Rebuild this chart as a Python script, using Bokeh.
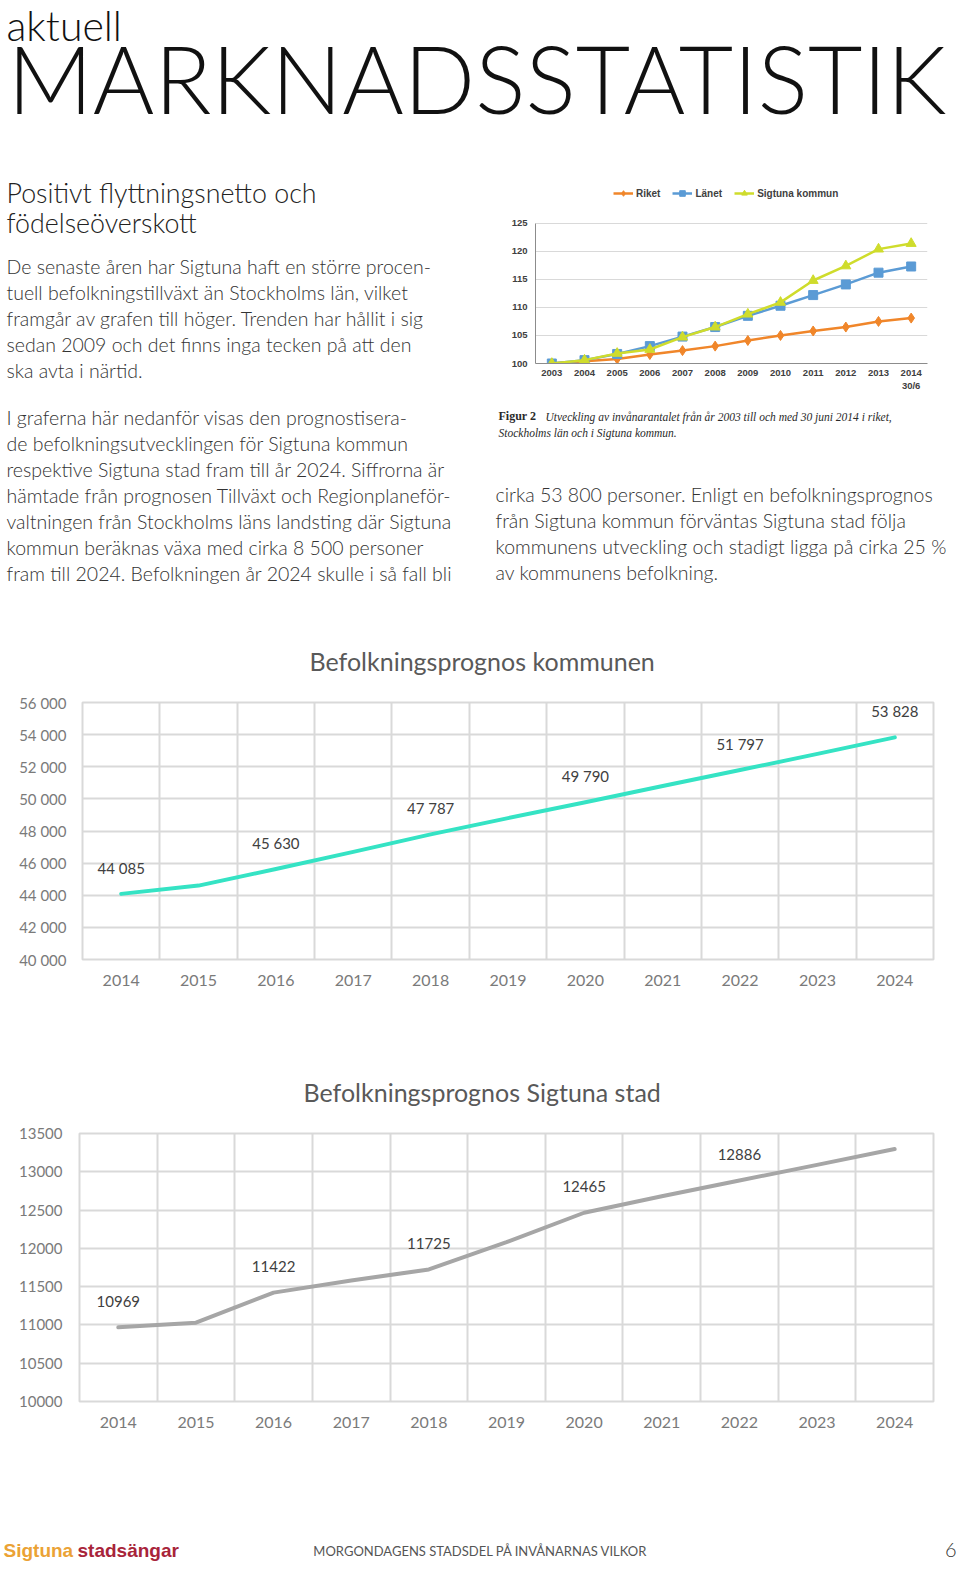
from bokeh.plotting import figure
from bokeh.layouts import column, row
from bokeh.models import (Range1d, FixedTicker, Legend, LegendItem, LinearAxis,
                          ColumnDataSource, LabelSet)
from bokeh.core.properties import value
from bokeh.embed import file_html
from bokeh.resources import INLINE

# ---------------- data ----------------
idx_years = [2003, 2004, 2005, 2006, 2007, 2008, 2009, 2010, 2011, 2012, 2013, 2014]
idx_riket = [100, 100.4, 100.8, 101.6, 102.3, 103.1, 104.1, 105.0, 105.8, 106.5, 107.5, 108.1]
idx_lanet = [100, 100.6, 101.7, 103.1, 104.8, 106.5, 108.5, 110.3, 112.2, 114.1, 116.2, 117.3]
idx_sigtuna = [100, 100.6, 101.8, 102.5, 104.7, 106.5, 108.8, 110.9, 114.8, 117.4, 120.4, 121.4]
idx_yticks = [100, 105, 110, 115, 120, 125]
idx_last_sub = "30/6"

prog_years = [2014, 2015, 2016, 2017, 2018, 2019, 2020, 2021, 2022, 2023, 2024]
kommun_pop = [44085, 44600, 45630, 46700, 47787, 48800, 49790, 50800, 51797, 52800, 53828]
kommun_yticks = [40000, 42000, 44000, 46000, 48000, 50000, 52000, 54000, 56000]
kommun_ytick_labels = ["40 000", "42 000", "44 000", "46 000", "48 000",
                       "50 000", "52 000", "54 000", "56 000"]
stad_pop = [10969, 11030, 11422, 11580, 11725, 12080, 12465, 12680, 12886, 13090, 13297]
stad_yticks = [10000, 10500, 11000, 11500, 12000, 12500, 13000, 13500]

LIGHT = "Lato Light"
BODY = "#333333"
BODY_SIZE = 19.5
# distance from the em-box middle to the baseline, per font (fraction of size)
MID = {"Lato Light": 0.387, "Lato": 0.387, "Liberation Sans": 0.347,
       "Liberation Serif": 0.338}


def text_fig(w, h):
    p = figure(width=w, height=h, x_range=Range1d(0, w), y_range=Range1d(h, 0),
               x_axis_type=None, y_axis_type=None, output_backend="svg",
               toolbar_location=None, min_border=0, min_border_left=0,
               min_border_right=0, min_border_top=0, min_border_bottom=0)
    p.grid.visible = False
    p.outline_line_color = None
    return p


def put(p, x, base, s, size, color=BODY, font=LIGHT, style="normal", align="left"):
    p.text(x=[x], y=[base - MID[font] * size], text=[s], text_font=value(font),
           text_font_size=f"{size}px", text_color=color, text_font_style=style,
           text_align=align, text_baseline="middle")


# ---------------- header (page y 0-175) ----------------
head = text_fig(960, 175)
put(head, 6, 40.5, "aktuell", 41, "#111111")
put(head, 7, 113, "MARKNADSSTATISTIK", 94, "#111111")

# ---------------- left text column (page y 175-600) ----------------
lt = text_fig(493, 425)
put(lt, 6, 28.3, "Positivt flyttningsnetto och", 26.8, "#222222")
put(lt, 6, 58.3, "födelseöverskott", 26.8, "#222222")
para1 = ["De senaste åren har Sigtuna haft en större procen-",
         "tuell befolkningstillväxt än Stockholms län, vilket",
         "framgår av grafen till höger. Trenden har hållit i sig",
         "sedan 2009 och det finns inga tecken på att den",
         "ska avta i närtid."]
for i, s in enumerate(para1):
    put(lt, 6, 98.3 + 26 * i, s, BODY_SIZE)
para2 = ["I graferna här nedanför visas den prognostisera-",
         "de befolkningsutvecklingen för Sigtuna kommun",
         "respektive Sigtuna stad fram till år 2024. Siffrorna är",
         "hämtade från prognosen Tillväxt och Regionplaneför-",
         "valtningen från Stockholms läns landsting där Sigtuna",
         "kommun beräknas växa med cirka 8 500 personer",
         "fram till 2024. Befolkningen år 2024 skulle i så fall bli"]
for i, s in enumerate(para2):
    put(lt, 6, 249.3 + 26 * i, s, BODY_SIZE)

# ---------------- small index chart (page y 175-398, x 493-960) ----------------
C_RIKET, C_LANET, C_SIG = "#f0862a", "#5b9bd5", "#cfdc2c"
sc = figure(width=467, height=223,
            x_range=Range1d(idx_years[0] - 0.5, idx_years[-1] + 0.5),
            y_range=Range1d(100, 132.1), output_backend="svg", toolbar_location=None,
            min_border_left=42, min_border_right=33, min_border_top=8,
            min_border_bottom=35)
r1 = sc.line(idx_years, idx_riket, line_color=C_RIKET, line_width=2.5)
m1 = sc.scatter(idx_years, idx_riket, marker="diamond", size=10, color=C_RIKET)
r2 = sc.line(idx_years, idx_lanet, line_color=C_LANET, line_width=2.5)
m2 = sc.scatter(idx_years, idx_lanet, marker="square", size=9, color=C_LANET)
r3 = sc.line(idx_years, idx_sigtuna, line_color=C_SIG, line_width=2.5)
m3 = sc.scatter(idx_years, idx_sigtuna, marker="triangle", size=10, color=C_SIG)
leg = Legend(items=[LegendItem(label="Riket", renderers=[r1, m1]),
                    LegendItem(label="Länet", renderers=[r2, m2]),
                    LegendItem(label="Sigtuna kommun", renderers=[r3, m3])],
             orientation="horizontal", location=(78, 163), padding=0, margin=0,
             spacing=12, glyph_width=20, glyph_height=14, label_standoff=3,
             label_text_font="Liberation Sans", label_text_font_style="bold",
             label_text_font_size="10px", label_text_color="#404040",
             border_line_color=None, background_fill_alpha=0)
sc.add_layout(leg)
sc.yaxis.ticker = FixedTicker(ticks=idx_yticks)
sc.yaxis.bounds = (idx_yticks[0], idx_yticks[-1])
sc.ygrid.ticker = FixedTicker(ticks=idx_yticks)
sc.xaxis.ticker = FixedTicker(ticks=idx_years)
sc.xgrid.visible = False
sc.ygrid.grid_line_color = "#d9d9d9"
sc.outline_line_color = None
sub_axis = LinearAxis(ticker=FixedTicker(ticks=[idx_years[-1]]),
                      major_label_overrides={idx_years[-1]: idx_last_sub})
sc.add_layout(sub_axis, "below")
for ax in (sc.xaxis[0], sc.yaxis[0], sub_axis):
    ax.axis_line_color = "#8c8c8c"
    ax.major_tick_line_color = None
    ax.minor_tick_line_color = None
    ax.major_tick_out = 0
    ax.major_tick_in = 0
    ax.major_label_text_font = "Liberation Sans"
    ax.major_label_text_font_style = "bold"
    ax.major_label_text_font_size = "9.5px"
    ax.major_label_text_color = "#404040"
sub_axis.axis_line_color = None
sub_axis.major_label_standoff = 1
sc.yaxis.major_label_standoff = 8
sc.xaxis[0].major_label_standoff = 6

# ---------------- right text (page y 398-600) ----------------
rt = text_fig(467, 202)
put(rt, 5, 22, "Figur 2", 12, "#2a2a2a", "Liberation Serif", "bold")
put(rt, 52, 22, "Utveckling av invånarantalet från år 2003 till och med 30 juni 2014 i riket,",
    11.5, "#2a2a2a", "Liberation Serif", "italic")
put(rt, 5, 38, "Stockholms län och i Sigtuna kommun.", 11.5, "#2a2a2a", "Liberation Serif", "italic")
para3 = ["cirka 53 800 personer. Enligt en befolkningsprognos",
         "från Sigtuna kommun förväntas Sigtuna stad följa",
         "kommunens utveckling och stadigt ligga på cirka 25 %",
         "av kommunens befolkning."]
for i, s in enumerate(para3):
    put(rt, 2, 104 + 26 * i, s, BODY_SIZE)


# ---------------- forecast charts ----------------
def forecast(title, years, vals, yticks, ylabels, labels, color, height,
             top, bottom, left, right, title_offset, ystandoff):
    p = figure(width=960, height=height,
               x_range=Range1d(years[0] - 0.5, years[-1] + 0.5),
               y_range=Range1d(yticks[0], yticks[-1]), output_backend="svg",
               toolbar_location=None, min_border_left=left, min_border_right=right,
               min_border_top=top, min_border_bottom=bottom, title=title)
    p.title.align = "left"
    p.title.offset = title_offset
    p.title.standoff = 54
    p.title.text_font = "Lato"
    p.title.text_font_style = "normal"
    p.title.text_font_size = "25px"
    p.title.text_color = "#595959"
    p.line(years, vals, line_color=color, line_width=4, line_join="round", line_cap="round")
    src = ColumnDataSource(dict(x=years[::2], y=vals[::2], t=labels))
    p.add_layout(LabelSet(x="x", y="y", text="t", source=src, y_offset=26,
                          text_align="center", text_baseline="middle",
                          text_font=value("Lato"), text_font_size="15px",
                          text_color="#404040"))
    p.xaxis.ticker = FixedTicker(ticks=years)
    p.yaxis.ticker = FixedTicker(ticks=yticks)
    p.yaxis.major_label_overrides = {t: l for t, l in zip(yticks, ylabels)}
    p.xgrid.ticker = FixedTicker(ticks=[y - 0.5 for y in years] + [years[-1] + 0.5])
    p.ygrid.ticker = FixedTicker(ticks=yticks)
    p.grid.grid_line_color = "#d9d9d9"
    p.grid.grid_line_width = 2
    p.outline_line_color = "#d9d9d9"
    p.outline_line_width = 2
    for ax in (p.xaxis[0], p.yaxis[0]):
        ax.axis_line_color = None
        ax.major_tick_line_color = None
        ax.minor_tick_line_color = None
        ax.major_tick_out = 0
        ax.major_tick_in = 0
        ax.major_label_text_font = "Lato"
        ax.major_label_text_color = "#7a7a7a"
    p.xaxis.major_label_text_font_size = "16px"
    p.yaxis.major_label_text_font_size = "15px"
    p.xaxis.major_label_standoff = 15
    p.yaxis.major_label_standoff = ystandoff
    return p


kommun_labels = [f"{v:,}".replace(",", " ") for v in kommun_pop[::2]]
c1 = forecast("Befolkningsprognos kommunen", prog_years, kommun_pop, kommun_yticks,
              kommun_ytick_labels, kommun_labels, "#35e3c4", 405, 102, 46, 82, 27, 227, 16)
stad_labels = [str(v) for v in stad_pop[::2]]
c2 = forecast("Befolkningsprognos Sigtuna stad", prog_years, stad_pop, stad_yticks,
              [str(t) for t in stad_yticks], stad_labels, "#a6a6a6", 455, 128, 59, 79, 27, 224, 17)

# ---------------- footer (page y 1460-1568) ----------------
ft = text_fig(960, 108)
put(ft, 3, 97, "Sigtuna", 19, "#eba235", "Liberation Sans", "bold")
put(ft, 77, 97, "stadsängar", 19, "#a8243a", "Liberation Sans", "bold")
put(ft, 480, 96, "MORGONDAGENS STADSDEL PÅ INVÅNARNAS VILKOR", 13, "#555555", "Lato",
    align="center")
put(ft, 956, 97, "6", 20, "#333333", align="right")

layout = column(row(head), row(column(lt), column(row(sc), row(rt))),
                row(c1), row(c2), row(ft))
open("out.html", "w").write(file_html(layout, INLINE))
